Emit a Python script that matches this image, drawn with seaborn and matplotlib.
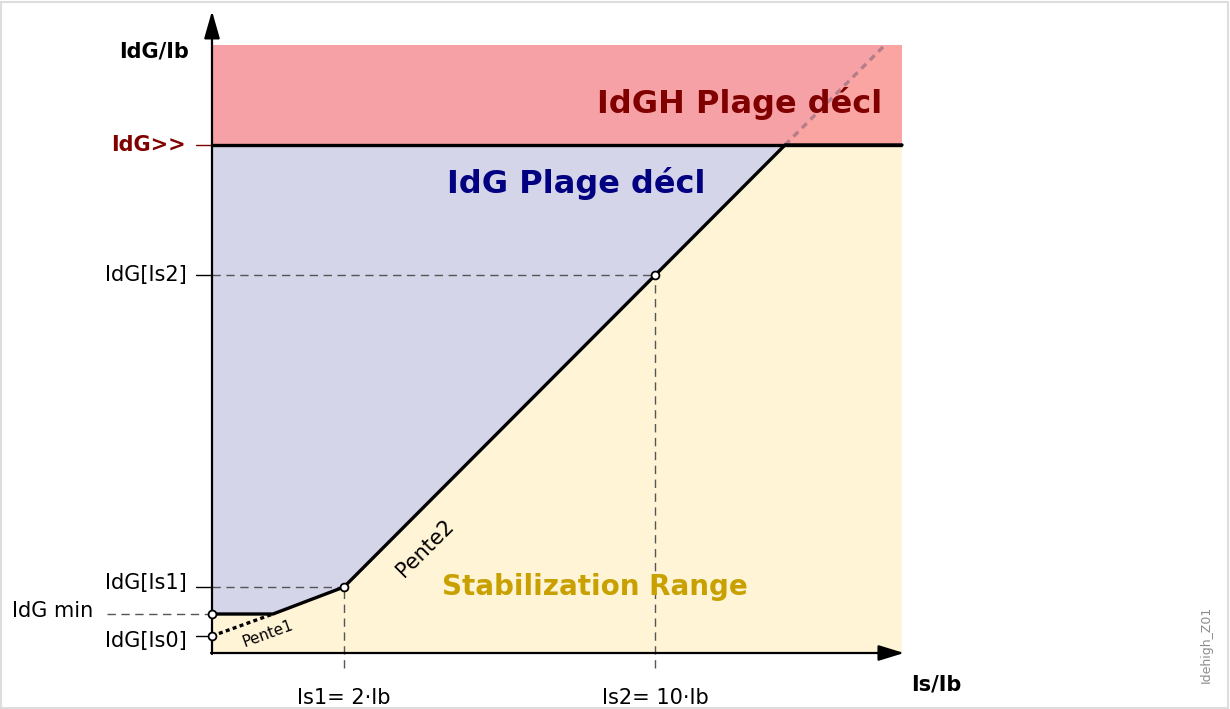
import matplotlib
matplotlib.use("Agg")
import matplotlib.pyplot as plt
from matplotlib.patches import Polygon, Rectangle
import seaborn as sns

sns.set_theme(style="white")
plt.rcParams["font.family"] = ["DejaVu Sans"]
plt.rcParams["text.color"] = "black"

# Operating characteristic of the high-set differential stage (schematic units)
curve_x = [0.0, 6.1, 13.2, 57.3, 69.0]        # Is/Ib breakpoints
curve_y = [3.9, 3.9, 6.6, 50.8, 50.8]         # IdG/Ib breakpoints
pente1_x = [0.0, 6.1]
pente1_y = [1.7, 3.9]
ext_x = [57.3, 67.1]                          # Pente2 continued into the IdGH area
ext_y = [50.8, 60.6]
point_x = [0.0, 0.0, 13.2, 44.3]
point_y = [1.7, 3.9, 6.6, 37.8]

x_max = 69.0
y_top = 60.8
idg_high = 50.8
idg_min = 3.9
idg_is0, idg_is1, idg_is2 = 1.7, 6.6, 37.8
is1, is2 = 13.2, 44.3

y_tick_labels = ["IdG>>", "IdG[Is2]", "IdG[Is1]", "IdG[Is0]"]
x_tick_labels = ["Is1= 2·Ib", "Is2= 10·Ib"]

RED = "#F6A1A5"
RED_OVER = "#FAA5A2"
BLUE = "#D5D5E9"
YELLOW = "#FFF4D6"

fig = plt.figure(figsize=(12.3, 7.09), dpi=100)
ax = fig.add_axes([0, 0, 1, 1])
ax.set_xlim(-21.2, 101.8)
ax.set_ylim(-5.6, 65.3)
ax.axis("off")

# light frame around the drawing
fig.patches.append(Rectangle((0.001, 0.001), 0.997, 0.996, transform=fig.transFigure,
                             fill=False, edgecolor="#dddddd", lw=1.5))

# zones
ax.add_patch(Rectangle((0, idg_high), x_max, y_top - idg_high, color=RED, lw=0, zorder=1))
ax.add_patch(Polygon([(ext_x[0], ext_y[0]), (x_max, idg_high), (x_max, y_top), (ext_x[1] + 0.3, y_top)],
                     closed=True, color=RED_OVER, lw=0, zorder=1))
blue_poly = [(0, idg_high)] + [(x, y) for x, y in zip(curve_x[:4], curve_y[:4])]
ax.add_patch(Polygon(blue_poly, closed=True, color=BLUE, lw=0, zorder=1))
yellow_poly = [(0, 0), (x_max, 0)] + [(x, y) for x, y in zip(curve_x[::-1], curve_y[::-1])]
ax.add_patch(Polygon(yellow_poly, closed=True, color=YELLOW, lw=0, zorder=1))

# guide lines
gkw = dict(color="#555555", lw=1.0, dashes=(6, 4), zorder=2)
ax.plot([0, is1], [idg_is1, idg_is1], **gkw)
ax.plot([0, is2], [idg_is2, idg_is2], **gkw)
ax.plot([-10.5, 0], [idg_min, idg_min], **gkw)
ax.plot([is1, is1], [-1.5, idg_is1], **gkw)
ax.plot([is2, is2], [-1.5, idg_is2], **gkw)
for yv in (idg_is2, idg_is1, idg_is0):
    ax.plot([-1.6, 0], [yv, yv], color="black", lw=1.0, zorder=2)
ax.plot([-1.6, 0], [idg_high, idg_high], color="#800000", lw=1.0, zorder=2)

# IdG>> level across the whole width
ax.plot([0, x_max], [idg_high, idg_high], color="black", lw=2.4, zorder=4,
        solid_capstyle="butt")

# Pente2 extension in the IdGH zone
ax.plot(ext_x, ext_y, color="#B57D87", lw=2.4, dashes=(2, 1.6), zorder=3)

# characteristic
sns.lineplot(x=curve_x, y=curve_y, sort=False, estimator=None, color="black",
             lw=2.4, ax=ax, zorder=5)
ax.plot(pente1_x, pente1_y, color="black", lw=2.4, dashes=(1.2, 1.0), zorder=5)
sns.scatterplot(x=point_x, y=point_y, color="white", edgecolor="black", linewidth=1.3,
                s=32, ax=ax, zorder=7)

# axes with arrows
ax.annotate("", xy=(69.2, 0), xytext=(-0.1, 0),
            arrowprops=dict(arrowstyle="-|>,head_length=1.3,head_width=0.4",
                            color="black", lw=1.6, shrinkA=0, shrinkB=0), zorder=6)
ax.annotate("", xy=(0, 64.2), xytext=(0, -0.1),
            arrowprops=dict(arrowstyle="-|>,head_length=1.4,head_width=0.4",
                            color="black", lw=1.6, shrinkA=0, shrinkB=0), zorder=6)

# labels
ax.text(-5.8, 60.1, "IdG/Ib", fontsize=15, fontweight="bold", ha="center", va="center")
ax.text(72.4, -3.2, "Is/Ib", fontsize=15, fontweight="bold", ha="center", va="center")
ax.text(-2.6, idg_high, y_tick_labels[0], fontsize=15, fontweight="bold", color="#800000",
        ha="right", va="center")
ax.text(-2.5, idg_is2, y_tick_labels[1], fontsize=15, ha="right", va="center")
ax.text(-2.5, 7.0, y_tick_labels[2], fontsize=15, ha="right", va="center")
ax.text(-2.5, 1.2, y_tick_labels[3], fontsize=15, ha="right", va="center")
ax.text(-11.9, 4.2, "IdG min", fontsize=15, ha="right", va="center")
ax.text(is1, -4.5, x_tick_labels[0], fontsize=15, ha="center", va="center")
ax.text(is2, -4.5, x_tick_labels[1], fontsize=15, ha="center", va="center")

ax.text(52.8, 54.9, "IdGH Plage décl", fontsize=23, fontweight="bold", color="#800000",
        ha="center", va="center", zorder=8)
ax.text(36.4, 47.0, "IdG Plage décl", fontsize=23, fontweight="bold", color="#000080",
        ha="center", va="center", zorder=8)
ax.text(38.3, 6.6, "Stabilization Range", fontsize=20, fontweight="bold", color="#C8A000",
        ha="center", va="center", zorder=8)
ax.text(21.3, 10.5, "Pente2", fontsize=15, rotation=45, ha="center", va="center", zorder=8)
ax.text(5.6, 1.9, "Pente1", fontsize=11, rotation=20, ha="center", va="center", zorder=8)
ax.text(99.4, 0.9, "Idehigh_Z01", fontsize=9, rotation=90, color="#8c8c8c",
        ha="center", va="center")

fig.savefig("out.png", dpi=100)
